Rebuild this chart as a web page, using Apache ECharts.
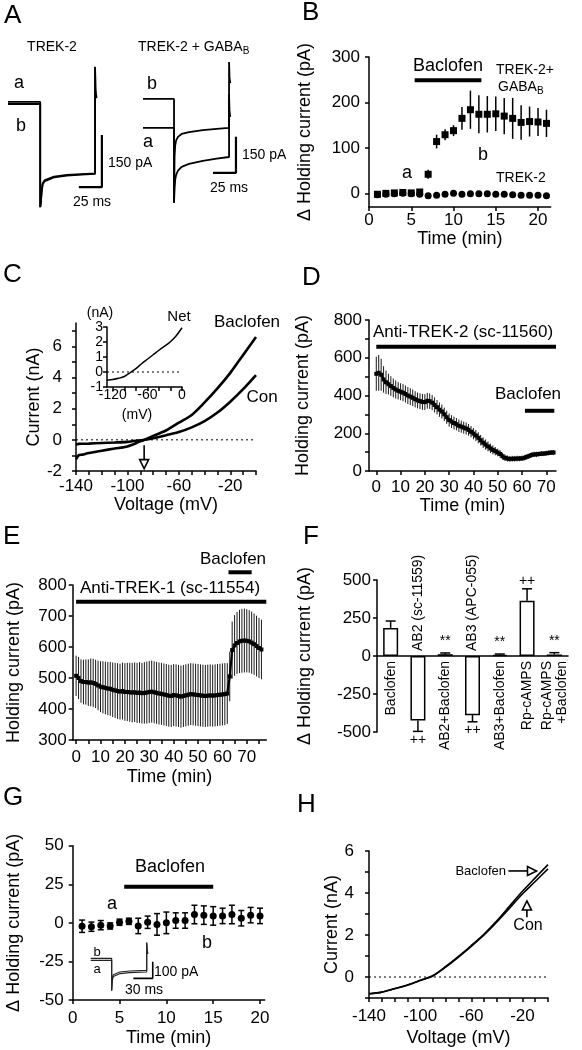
<!DOCTYPE html>
<html><head><meta charset="utf-8">
<script src="https://cdn.jsdelivr.net/npm/echarts@6/dist/echarts.min.js"></script>
<style>html,body{margin:0;padding:0;background:#fff}#c{width:582px;height:1050px}</style>
</head><body><div id="c"></div>
<script>
const FONT = '"Liberation Sans", Arial, Helvetica, sans-serif';

// ---------- Panel A: example traces (ms, pA) ----------
const aTrekT  = [0, 35, 35, 35.6, 36.5, 37.7, 40, 42, 50, 64, 80, 94.6, 94.6, 95.0, 95.6, 96.5];
const aTrekAI = [3, 3, -300, -290, -255, -231, -222, -217, -212, -207, -205, -203, 104, 40, 22, 18];
const aTrekBI = [-3, -3, -300, -290, -258, -234, -225, -220, -214, -209, -206, -204, 100, 35, 18, 14];
const aGabaT  = [0, 33.7, 33.7, 34.3, 35, 36, 38, 42, 50, 65, 80, 93.5, 93.5, 94.0, 94.8];
const aGabaAI = [0, 0, -312, -250, -215, -195, -178, -162, -150, -137, -128, -121, 140, 70, 46];
const aGabaBI = [121, 121, -312, -120, -72, -52, -37, -25, -17, -9, -4, 0, 275, 210, 187];
const aBarLx = [77, 102, 102], aBarLy = [-242, -242, -92];     // 25 ms / 150 pA
const aBarRx = [76, 101, 101], aBarRy = [-187, -187, -37];     // 25 ms / 150 pA

// ---------- Panel B ----------
const bTime = [1,2,3,4,5,6,7,8,9,10,11,12,13,14,15,16,17,18,19,20,21];
const bGabaMean = [-2,0,1,2,1,3,42,114,129,138,165,184,174,174,175,170,165,156,158,157,154];
const bGabaErr  = [3,3,3,3,3,4,10,15,12,12,25,42,42,40,38,40,45,38,33,31,30];
const bTrekMean = [-3,-2,-1,0,-1,-2,-5,-4,-2,0,-2,-1,-1,-1,-2,-2,-3,-4,-4,-4,-5];
const bBacT = [5.4, 13.3], bBacY = [249, 249];
const bXTicks = [0,5,10,15,20], bYTicks = [0,100,200,300];

// ---------- Panel C ----------
const cV   = [-140,-138,-135,-130,-120,-110,-100,-90,-87,-80,-70,-60,-50,-40,-30,-20,-10,0];
const cBac = [-1.25,-1.0,-0.95,-0.85,-0.7,-0.56,-0.42,-0.1,0,0.25,0.6,1.1,1.6,2.4,3.3,4.3,5.45,6.6];
const cCon = [-0.3,-0.26,-0.25,-0.24,-0.2,-0.17,-0.13,-0.03,0,0.1,0.3,0.5,0.8,1.2,1.75,2.45,3.25,4.15];
const cZeroX = [-140, 0];
const cXTicks = [-140,-130,-120,-110,-100,-90,-80,-70,-60,-50,-40,-30,-20,-10,0];
const cXLabels = [-140,-100,-60,-20];
const cYTicks = [-2,-1,0,1,2,3,4,5,6,7], cYLabels = [-2,0,2,4,6];
const arrowC = [-87, -0.35, -1.85];
const netV = [-130,-120,-110,-100,-90,-80,-70,-60,-50,-40,-30,-20,-10,0];
const netI = [-0.55,-0.5,-0.42,-0.3,-0.05,0.22,0.55,0.85,1.15,1.45,1.72,2.02,2.42,2.95];
const netZeroX = [-130, 0];
const netXTicks = [-120,-100,-80,-60,-40,-20,0], netXLabels = [-120,-60,0];
const netYTicks = [-1,0,1,2,3];

// ---------- Panel D ----------
const dTime = [0,1,2,3,4,5,6,7,8,9,10,11,12,13,14,15,16,17,18,19,20,21,22,23,24,25,26,27,28,29,30,31,32,33,34,35,36,37,38,39,40,41,42,43,44,45,46,47,48,49,50,51,52,53,54,55,56,57,58,59,60,61,62,63,64,65,66,67,68,69,70,71,72,73];
const dMean = [515,520,510,485,470,460,450,440,432,425,420,415,408,400,394,388,380,374,370,366,365,372,370,362,350,338,325,315,300,285,270,262,254,248,240,235,230,225,218,208,198,188,176,163,150,140,130,120,112,105,98,90,78,70,66,64,65,65,66,66,67,70,75,80,85,88,88,90,92,92,94,96,98,98];
const dErr  = [90,95,85,70,62,55,52,50,48,46,45,45,45,45,44,44,43,42,42,42,42,42,41,40,40,38,38,37,36,35,35,34,34,33,33,32,32,32,31,30,30,30,29,28,28,27,26,25,24,22,20,20,18,17,16,15,15,15,15,14,14,14,14,14,14,14,14,13,13,13,13,13,13,13];
const dAntiT = [0, 74], dAntiY = [658, 658];
const dBacT = [61.2, 73.3], dBacY = [319, 319];
const dXTicks = [0,10,20,30,40,50,60,70];
const dYTicks = [0,100,200,300,400,500,600,700,800], dYLabels = [0,200,400,600,800];

// ---------- Panel E ----------
const eTime = [0,1,2,3,4,5,6,7,8,9,10,11,12,13,14,15,16,17,18,19,20,21,22,23,24,25,26,27,28,29,30,31,32,33,34,35,36,37,38,39,40,41,42,43,44,45,46,47,48,49,50,51,52,53,54,55,56,57,58,59,60,61,62,63,64,65,66,67,68,69,70,71,72,73,74,75,76];
const eMean = [507,500,490,487,487,485,486,484,481,476,472,470,468,466,465,462,460,458,456,458,455,455,454,453,454,452,453,451,452,453,455,456,454,452,450,449,447,445,443,442,445,444,442,440,442,444,446,448,447,446,445,444,443,442,443,444,443,444,445,446,447,448,450,505,590,605,613,618,620,621,620,618,614,609,603,597,592];
const eErr  = [65,68,70,72,73,75,77,78,78,80,82,84,85,86,87,88,89,90,90,92,93,94,95,96,96,97,98,98,99,100,100,100,100,100,100,100,100,100,100,100,100,100,100,100,100,100,100,100,100,100,100,100,100,100,100,100,100,100,100,100,100,100,98,80,92,98,100,102,103,103,102,101,100,99,98,97,96];
const eAntiT = [0, 78], eAntiY = [746, 746];
const eBacT = [62.5, 72], eBacY = [841, 841];
const eXTicks = [0,5,10,15,20,25,30,35,40,45,50,55,60,65,70,75], eXLabels = [0,10,20,30,40,50,60,70];
const eYTicks = [300,400,500,600,700,800];

// ---------- Panel F ----------
const fCats = ['Baclofen','AB2 (sc-11559)','AB2+Baclofen','AB3 (APC-055)','AB3+Baclofen','Rp-cAMPS','Rp-cAMPS\n+Baclofen'];
const fMean = [185, -424, 12, -389, 8, 364, 10];
const fErr  = [45, 72, 8, 44, 5, 78, 12];
const fMarks = ['', '++', '**', '++', '**', '++', '**'];
const fYTicks = [-500,-250,0,250,500];

// ---------- Panel G ----------
const gTime = [1,2,3,4,5,6,7,8,9,10,11,12,13,14,15,16,17,18,19,20];
const gMean = [-2.2,-2.5,-1.5,-2,0.4,1,-2,0.4,-1,0,1.5,1.5,5.4,5,4.5,4.5,5.4,3,5,4.5];
const gErr  = [4,3,3,2,2,2,5,4,7,7,5,5,6,6,6,5,6,5,5,5];
const gBacT = [5.5, 15.0], gBacY = [23.4, 23.4];
const gXTicks = [0,5,10,15,20], gYTicks = [-50,-25,0,25,50];
const gTrT = [0, 32.5, 32.5, 33.5, 35, 38, 45, 60, 86.7, 86.7, 87.5, 88.5];
const gTrA = [-8, -8, -190, -130, -105, -95, -88, -82, -78, 100, 50, 36];
const gTrB = [4, 4, -190, -120, -95, -85, -78, -72, -68, 95, 45, 30];
const gBarX = [66, 96, 96], gBarY = [-116, -116, -16];   // 30 ms / 100 pA

// ---------- Panel H ----------
const hV   = [-140,-130,-120,-110,-100,-90,-80,-70,-60,-50,-40,-30,-20,-10,0];
const hBac = [-0.8,-0.72,-0.55,-0.38,-0.16,0.07,0.5,0.98,1.5,2.05,2.68,3.38,4.08,4.72,5.35];
const hCon = [-0.8,-0.72,-0.56,-0.39,-0.17,0.05,0.47,0.95,1.46,2.0,2.62,3.28,3.95,4.55,5.15];
const hZeroX = [-140, 0];
const hXTicks = cXTicks, hXLabels = cXLabels;
const hYTicks = [-1,0,1,2,3,4,5,6], hYLabels = [0,2,4,6];
const arrowHBac = [-31, -9, 5.05];
const arrowHCon = [-16.5, 2.85, 3.62];

// ================= helpers =================
const zip = (xs, ys) => xs.map((x, i) => [x, ys[i]]);
function grid(l, t, w, h) { return {left: l, top: t, width: w, height: h, containLabel: false, outerBoundsMode: 'none'}; }
function ax(idx, dir, o) {
  const a = {
    type: 'value', gridIndex: idx, min: o.min, max: o.max, show: o.show !== false,
    axisLine: {show: true, onZero: false, lineStyle: {color: '#000', width: 1.5}},
    axisTick: {show: true, inside: false, length: 4, lineStyle: {color: '#000', width: 1.5}, customValues: o.ticks},
    axisLabel: {show: true, color: '#000', fontSize: o.fs || 17, fontFamily: FONT, margin: o.margin == null ? 6 : o.margin, customValues: o.labels || o.ticks},
    splitLine: {show: false},
    name: o.name || '', nameLocation: 'middle', nameGap: o.gap || 0,
    nameTextStyle: {fontSize: 18, color: '#000', fontFamily: FONT}
  };
  if (dir === 'y') a.nameRotate = 90;
  return a;
}
function hidden(idx, min, max) { return {type: 'value', gridIndex: idx, min, max, show: false, splitLine: {show: false}}; }
function line(idx, data, w, extra) {
  return Object.assign({type: 'line', xAxisIndex: idx, yAxisIndex: idx, data, symbol: 'none', showSymbol: false,
    lineStyle: {color: '#000', width: w}, itemStyle: {color: '#000'}, silent: true, z: 3}, extra || {});
}
function errBars(idx, pts, lw, cap, capLoToo) {
  return {type: 'custom', xAxisIndex: idx, yAxisIndex: idx, data: pts, silent: true, z: 2,
    renderItem: (params, api) => {
      const x = api.value(0), lo = api.value(1), hi = api.value(2);
      const a = api.coord([x, lo]), b = api.coord([x, hi]);
      const st = {stroke: '#000', lineWidth: lw};
      const ch = [{type: 'line', shape: {x1: a[0], y1: a[1], x2: b[0], y2: b[1]}, style: st}];
      if (cap) {
        ch.push({type: 'line', shape: {x1: b[0] - cap, y1: b[1], x2: b[0] + cap, y2: b[1]}, style: st});
        if (capLoToo) ch.push({type: 'line', shape: {x1: a[0] - cap, y1: a[1], x2: a[0] + cap, y2: a[1]}, style: st});
      }
      return {type: 'group', children: ch};
    }};
}
const sym = (a, b, c) => a.map((m, i) => [b[i], m - c[i], m + c[i]]);
const solid = {color: '#000', opacity: 1};
function dots(idx, data, shape, size, z) {
  return {type: 'scatter', xAxisIndex: idx, yAxisIndex: idx, data, symbol: shape, symbolSize: size, itemStyle: solid, z: z || 4, silent: true};
}
const fLabelStyle = {fontSize: 14, fontFamily: FONT, color: '#000', opacity: 1, lineHeight: 15};

// ================= option =================
const grids = [
  grid(8, 55, 96, 156),        // 0 A left
  grid(143, 55, 96, 156),      // 1 A right
  grid(369, 57, 181.7, 150),   // 2 B
  grid(76, 323, 180, 148),     // 3 C
  grid(107, 327, 75, 60),      // 4 C inset
  grid(369, 320, 187, 151),    // 5 D
  grid(72.7, 585, 193.6, 155), // 6 E
  grid(377, 580, 191, 152),    // 7 F
  grid(72.7, 845.7, 192, 154.3), // 8 G
  grid(90.7, 940, 63, 53),     // 9 G inset
  grid(369, 851, 179, 147)     // 10 H
];
const xAxes = [
  hidden(0, 0, 104.3), hidden(1, 0, 104.3),
  ax(2, 'x', {min: 0, max: 21.5, ticks: bXTicks, margin: 5, name: 'Time (min)', gap: 23}),
  ax(3, 'x', {min: -140, max: 0, ticks: cXTicks, labels: cXLabels, margin: 7, name: 'Voltage (mV)', gap: 23}),
  ax(4, 'x', {min: -130, max: 0, ticks: netXTicks, labels: netXLabels, fs: 14, margin: 1}),
  ax(5, 'x', {min: -3, max: 74, ticks: dXTicks, margin: 8, name: 'Time (min)', gap: 22}),
  ax(6, 'x', {min: -1.4, max: 78, ticks: eXTicks, labels: eXLabels, margin: 9, name: 'Time (min)', gap: 28}),
  {type: 'category', gridIndex: 7, data: fCats, boundaryGap: true,
    axisLine: {show: true, onZero: true, lineStyle: {color: '#000', width: 1.5}},
    axisTick: {show: false}, axisLabel: {show: false}},
  ax(8, 'x', {min: 0, max: 20.5, ticks: gXTicks, margin: 10, name: 'Time (min)', gap: 29}),
  hidden(9, 0, 97.5),
  ax(10, 'x', {min: -140, max: 0, ticks: hXTicks, labels: hXLabels, margin: 10, name: 'Voltage (mV)', gap: 31})
];
const yAxes = [
  hidden(0, -311, 138), hidden(1, -346, 304),
  ax(2, 'y', {min: -30, max: 300, ticks: bYTicks, margin: 9, name: 'Δ Holding current (pA)', gap: 55}),
  ax(3, 'y', {min: -2, max: 7.5, ticks: cYTicks, labels: cYLabels, margin: 14, name: 'Current (nA)', gap: 24}),
  ax(4, 'y', {min: -1, max: 3, ticks: netYTicks, fs: 14, margin: 4}),
  ax(5, 'y', {min: 0, max: 800, ticks: dYTicks, labels: dYLabels, margin: 7, name: 'Holding current (pA)', gap: 57}),
  ax(6, 'y', {min: 300, max: 800, ticks: eYTicks, margin: 6, name: 'Holding current (pA)', gap: 50}),
  ax(7, 'y', {min: -500, max: 500, ticks: fYTicks, margin: 6, name: 'Δ Holding current (pA)', gap: 63}),
  ax(8, 'y', {min: -50, max: 50, ticks: gYTicks, margin: 9, name: 'Δ Holding current (pA)', gap: 50}),
  hidden(9, -204, 114),
  ax(10, 'y', {min: -1, max: 6, ticks: hYTicks, labels: hYLabels, margin: 15, name: 'Current (nA)', gap: 27})
];

const dotted = [2, 3];
const series = [
  // A
  line(0, zip(aTrekT, aTrekAI), 1.8), line(0, zip(aTrekT, aTrekBI), 1.8), line(0, zip(aBarLx, aBarLy), 2.2),
  line(1, zip(aGabaT, aGabaAI), 1.8), line(1, zip(aGabaT, aGabaBI), 1.8), line(1, zip(aBarRx, aBarRy), 2.2),
  // B
  errBars(2, sym(bGabaMean, bTime, bGabaErr), 1.5, 0),
  dots(2, zip(bTime, bTrekMean), 'circle', 7, 3),
  dots(2, zip(bTime, bGabaMean), 'rect', 7, 4),
  line(2, zip(bBacT, bBacY), 4),
  // C
  line(3, zip(cZeroX, [0, 0]), 1, {lineStyle: {color: '#000', width: 1, type: dotted}}),
  line(3, zip(cV, cBac), 2.6, {smooth: 0.3}),
  line(3, zip(cV, cCon), 2.6, {smooth: 0.3}),
  line(4, zip(netZeroX, [0, 0]), 1, {lineStyle: {color: '#000', width: 1, type: dotted}}),
  line(4, zip(netV, netI), 1.5, {smooth: 0.3}),
  // D
  errBars(5, sym(dMean, dTime, dErr), 0.9, 0),
  line(5, zip(dTime, dMean), 2.2, {symbol: 'rect', symbolSize: 4, showSymbol: true, showAllSymbol: true}),
  line(5, zip(dAntiT, dAntiY), 4), line(5, zip(dBacT, dBacY), 4),
  // E
  errBars(6, sym(eMean, eTime, eErr), 0.9, 0),
  line(6, zip(eTime, eMean), 2.2, {symbol: 'rect', symbolSize: 4, showSymbol: true, showAllSymbol: true}),
  line(6, zip(eAntiT, eAntiY), 4), line(6, zip(eBacT, eBacY), 4, {clip: false}),
  // F
  {type: 'bar', xAxisIndex: 7, yAxisIndex: 7, data: fMean, barWidth: 15, silent: true, z: 3,
    itemStyle: {color: '#fff', borderColor: '#000', borderWidth: 1.5}},
  errBars(7, fMean.map((m, i) => [i, m, m + Math.sign(m) * fErr[i]]), 1.5, 5),
  // category names: below the zero line for positive bars, above it for negative bars
  {type: 'scatter', xAxisIndex: 7, yAxisIndex: 7, symbolSize: 0, silent: true, z: 5, itemStyle: solid,
    data: fMean.map((m, i) => ({value: [i, 0],
      label: m < 0 ? {position: 'top', distance: 5, align: 'left'} : {position: 'bottom', distance: 5, align: 'right'}})),
    label: Object.assign({show: true, rotate: 90, verticalAlign: 'middle', formatter: p => fCats[p.data.value[0]]}, fLabelStyle)},
  {type: 'scatter', xAxisIndex: 7, yAxisIndex: 7, symbolSize: 0, silent: true, z: 5, itemStyle: solid,
    data: fMean.map((m, i) => ({value: [i, m + Math.sign(m) * fErr[i]],
      label: {position: m < 0 ? 'bottom' : 'top', distance: m < 0 ? 1 : (Math.abs(m) < 50 ? 4 : 0)}})).filter((p, i) => fMarks[i]),
    label: Object.assign({show: true, formatter: p => fMarks[p.data.value[0]]}, fLabelStyle)},
  // G
  errBars(8, sym(gMean, gTime, gErr), 1.5, 3, true),
  dots(8, zip(gTime, gMean), 'circle', 7, 4),
  line(8, zip(gBacT, gBacY), 4),
  line(9, zip(gTrT, gTrA), 1.1, {lineStyle: {color: '#222', width: 1.1}}),
  line(9, zip(gTrT, gTrB), 1.1, {lineStyle: {color: '#222', width: 1.1}}),
  line(9, zip(gBarX, gBarY), 1.6),
  // H
  line(10, zip(hZeroX, [0, 0]), 1, {lineStyle: {color: '#000', width: 1, type: dotted}}),
  line(10, zip(hV, hBac), 1.6, {smooth: 0.3}),
  line(10, zip(hV, hCon), 1.6, {smooth: 0.3})
];

const chart = echarts.init(document.getElementById('c'), null, {renderer: 'canvas', width: 582, height: 1050});
chart.setOption({animation: false, backgroundColor: '#fff', grid: grids, xAxis: xAxes, yAxis: yAxes, series});

// ================= text + arrows =================
function txt(s, x, y, size, align, extra) {
  return {type: 'text', x, y, silent: true, z: 10,
    style: Object.assign({text: s, fontSize: size, fontFamily: FONT, fill: '#000',
      align: align || 'center', verticalAlign: 'middle', textAlign: align || 'center', textVerticalAlign: 'middle'}, extra || {})};
}
function arrow(idx, from, to) {
  const p0 = chart.convertToPixel({xAxisIndex: idx, yAxisIndex: idx}, from);
  const p1 = chart.convertToPixel({xAxisIndex: idx, yAxisIndex: idx}, to);
  const dx = p1[0] - p0[0], dy = p1[1] - p0[1], L = Math.hypot(dx, dy);
  const ux = dx / L, uy = dy / L, hl = 9, hw = 4.5;
  const bx = p1[0] - ux * hl, by = p1[1] - uy * hl;
  return [
    {type: 'line', shape: {x1: p0[0], y1: p0[1], x2: bx, y2: by}, style: {stroke: '#000', lineWidth: 1.6}, silent: true, z: 10},
    {type: 'polygon', shape: {points: [[p1[0], p1[1]], [bx - uy * hw, by + ux * hw], [bx + uy * hw, by - ux * hw]]},
      style: {fill: '#fff', stroke: '#000', lineWidth: 1.6}, silent: true, z: 10}
  ];
}
const sub = {s: {fontSize: 10, fontFamily: FONT, padding: [8, 0, 0, 0]}};
const graphics = [
  txt('A', 4, 16, 26, 'left'), txt('B', 302, 13, 26, 'left'), txt('C', 3, 275, 26, 'left'), txt('D', 302, 278, 26, 'left'),
  txt('E', 3, 537, 26, 'left'), txt('F', 303, 537, 26, 'left'), txt('G', 3, 798, 26, 'left'), txt('H', 297, 805, 26, 'left'),
  // A
  txt('TREK-2', 52, 47, 14), txt('TREK-2 + GABA{s|B}', 138, 47, 14, 'left', {rich: sub}),
  txt('a', 19, 83, 18), txt('b', 21, 126, 18), txt('b', 152, 84, 18), txt('a', 148, 142, 18),
  txt('150 pA', 108, 163, 14, 'left'), txt('25 ms', 92, 202, 14),
  txt('150 pA', 242, 155, 14, 'left'), txt('25 ms', 229, 188, 14),
  // B
  txt('Baclofen', 448, 66, 18), txt('TREK-2+', 496, 70, 14, 'left'), txt('GABA{s|B}', 498, 87, 14, 'left', {rich: sub}),
  txt('a', 407, 173, 18), txt('b', 483, 155, 18), txt('TREK-2', 496, 178, 14, 'left'),
  // C
  txt('Baclofen', 247, 322, 17), txt('Con', 262, 397, 17),
  txt('(nA)', 100, 313, 14), txt('Net', 179, 317, 15), txt('(mV)', 137, 415, 14),
  // D
  txt('Anti-TREK-2 (sc-11560)', 463, 332, 17), txt('Baclofen', 528, 394, 17),
  // E
  txt('Baclofen', 233, 559, 17), txt('Anti-TREK-1 (sc-11554)', 170, 588, 17),
  // G
  txt('Baclofen', 170, 867, 18), txt('a', 112, 904, 18), txt('b', 207, 943, 18),
  txt('b', 97, 952, 13), txt('a', 97, 969, 13), txt('100 pA', 154, 972, 14, 'left'), txt('30 ms', 144, 990, 14),
  // H
  txt('Baclofen', 506, 871, 13, 'right'), txt('Con', 528, 926, 16)
].concat(
  arrow(3, [arrowC[0], arrowC[1]], [arrowC[0], arrowC[2]]),
  arrow(10, [arrowHBac[0], arrowHBac[2]], [arrowHBac[1], arrowHBac[2]]),
  arrow(10, [arrowHCon[0], arrowHCon[1]], [arrowHCon[0], arrowHCon[2]])
);
chart.setOption({graphic: graphics});
</script>
</body></html>
